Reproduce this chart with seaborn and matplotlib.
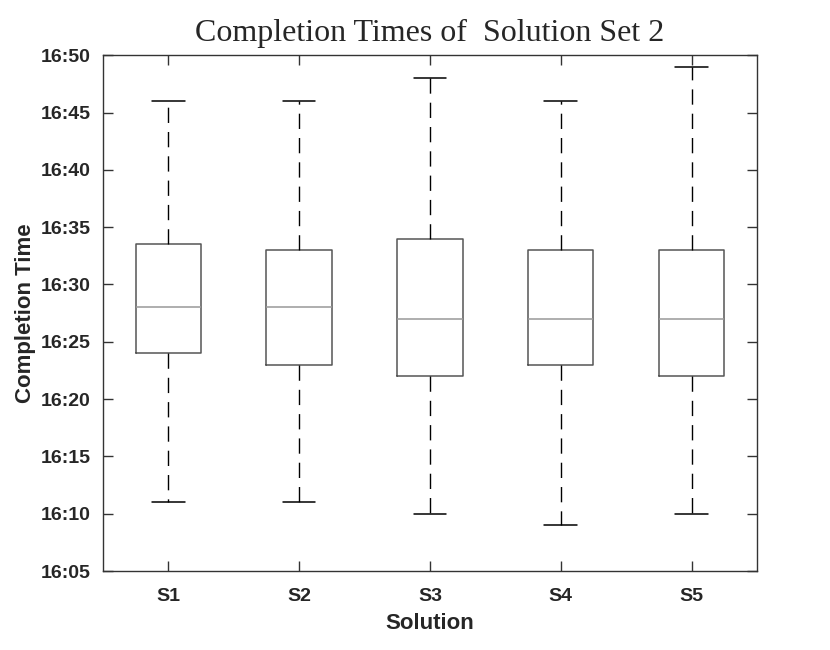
import pandas as pd
import numpy as np
import matplotlib
matplotlib.use("Agg")
import matplotlib.pyplot as plt
from matplotlib.ticker import FuncFormatter
import seaborn as sns

# Five-number summary per solution, minutes after 16:00
solutions = ["S1", "S2", "S3", "S4", "S5"]
mins = [11, 11, 10, 9, 10]
q1s = [24, 23, 22, 23, 22]
medians = [28, 28, 27, 27, 27]
q3s = [33.5, 33, 34, 33, 33]
maxs = [46, 46, 48, 46, 49]
y_ticks = [5, 10, 15, 20, 25, 30, 35, 40, 45, 50]

# long table: the five summary points per group reproduce the box exactly
rows = []
for s, a, b, c, d, e in zip(solutions, mins, q1s, medians, q3s, maxs):
    for v in (a, b, c, d, e):
        rows.append({"Solution": s, "Minutes": v})
data = pd.DataFrame(rows)

sns.set_style("ticks")
plt.rcParams["font.family"] = ["Liberation Sans", "DejaVu Sans"]

fig = plt.figure(figsize=(8.3, 6.5), dpi=100)
ax = fig.add_axes([0.124, 0.1215, 0.788, 0.7935])

sns.boxplot(data=data, x="Solution", y="Minutes", order=solutions,
            whis=(0, 100), width=0.5, fill=False, showfliers=False,
            linewidth=1.1, ax=ax,
            boxprops=dict(color="#555555"),
            medianprops=dict(color="#999999", linewidth=1.1),
            whiskerprops=dict(color="black", linestyle=(0, (11, 6.5)), linewidth=1.0),
            capprops=dict(color="black", linewidth=1.1))

ax.set_xlim(-0.5, 4.5)
ax.set_ylim(5, 50)
ax.set_yticks(y_ticks)
ax.yaxis.set_major_formatter(FuncFormatter(lambda v, p: f"16:{int(v):02d}"))

for side in ["top", "right", "left", "bottom"]:
    ax.spines[side].set_visible(True)
    ax.spines[side].set_color("#333333")
    ax.spines[side].set_linewidth(1.0)
ax.tick_params(direction="in", length=7, width=1, color="#333333",
               top=True, right=True, labelsize=14, labelcolor="#262626")
ax.tick_params(axis="x", pad=12)
ax.tick_params(axis="y", pad=9)
for lbl in ax.get_xticklabels() + ax.get_yticklabels():
    lbl.set_fontweight("bold")

ax.set_xlabel("Solution", fontsize=16, fontweight="bold", color="#262626", labelpad=6)
ax.set_ylabel("Completion Time", fontsize=16, fontweight="bold", color="#262626", labelpad=3)
ax.set_title("Completion Times of  Solution Set 2", fontsize=23,
             family=["Liberation Serif", "DejaVu Serif"], pad=10)

fig.savefig("out.png", dpi=100, facecolor="white")
